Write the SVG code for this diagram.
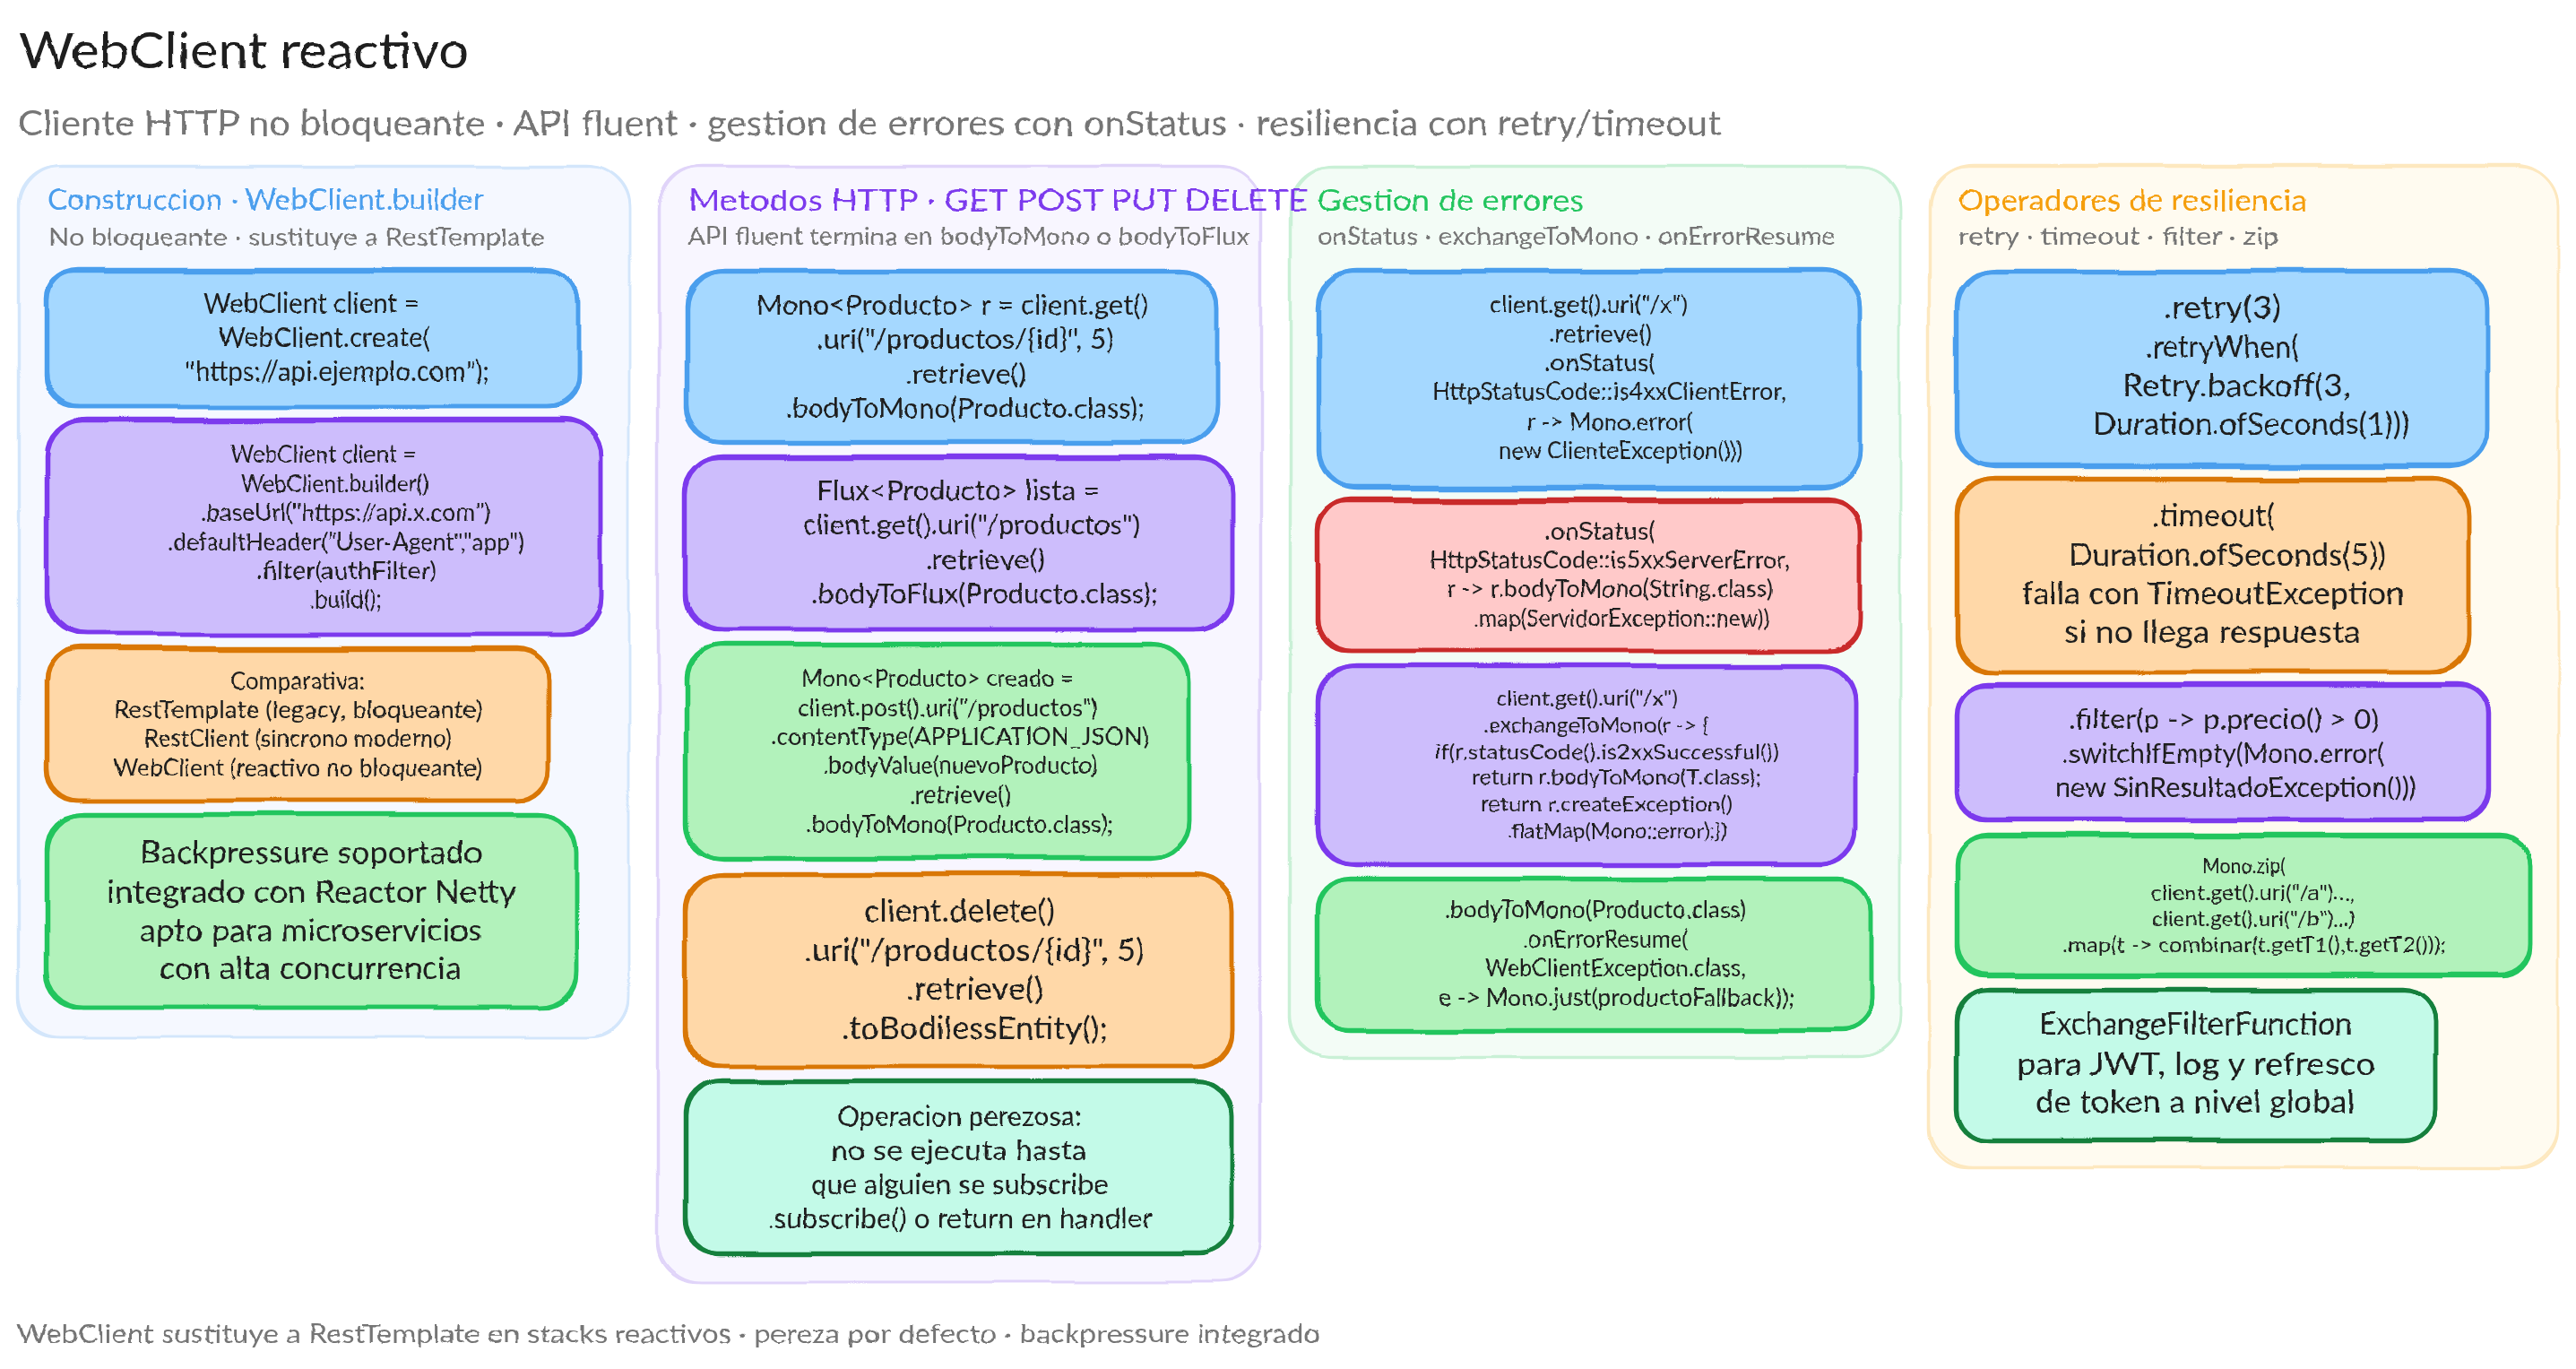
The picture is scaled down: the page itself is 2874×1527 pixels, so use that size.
<svg xmlns="http://www.w3.org/2000/svg" width="2874" height="1527" viewBox="0 0 2874 1527">
<style>
text{font-family:Lato,"Liberation Sans",sans-serif;fill:#1e1e1e;text-anchor:start}
.g text,text.g{fill:#757575}
.panel rect{stroke-width:2.5}
.card rect{stroke-width:4.5}
.p-blue rect{fill:#f5f8ff;stroke:#d3e6fb}
.p-purple rect{fill:#f8f6ff;stroke:#e0d4f9}
.p-green rect{fill:#f3fcf6;stroke:#c9f0d6}
.p-yellow rect{fill:#fffbf0;stroke:#fde8bf}
.blue rect{fill:#a5d8ff;stroke:#4a9eed}
.purple rect{fill:#cdbdfc;stroke:#7c3aed}
.orange rect{fill:#ffd8a8;stroke:#d97706}
.green rect{fill:#b2f2bb;stroke:#22c55e}
.red rect{fill:#ffc9c9;stroke:#c92a2a}
.teal rect{fill:#c3fae8;stroke:#15803d}
rect.o{fill:none!important}
.s{filter:url(#rough)}
.w{filter:url(#hand)}
</style>
<defs>
<filter id="rough" x="-3%" y="-5%" width="106%" height="110%" color-interpolation-filters="sRGB">
<feTurbulence type="fractalNoise" baseFrequency="0.006" numOctaves="2" seed="4"/>
<feDisplacementMap in="SourceGraphic" scale="7" xChannelSelector="R" yChannelSelector="G"/>
</filter>
<filter id="hand" x="-2%" y="-5%" width="104%" height="110%" color-interpolation-filters="sRGB">
<feTurbulence type="fractalNoise" baseFrequency="0.07" numOctaves="2" seed="7"/>
<feDisplacementMap in="SourceGraphic" scale="3.5" xChannelSelector="R" yChannelSelector="G"/>
<feOffset dy="2"/>
</filter>
</defs>
<rect width="2874" height="1527" fill="#ffffff"/>

<g id="header" class="w">
<text x="21" y="74" font-size="56" textLength="502" lengthAdjust="spacingAndGlyphs">WebClient reactivo</text>
<text class="g" x="20" y="149" font-size="38" textLength="1900" lengthAdjust="spacingAndGlyphs">Cliente HTTP no bloqueante · API fluent · gestion de errores con onStatus · resiliencia con retry/timeout</text>
</g>

<g id="panel-resiliencia">
<g class="panel p-yellow s"><rect x="2152" y="186" width="702" height="1117" rx="44"/><rect class="o" x="2153" y="184" width="701" height="1118" rx="48"/></g>
<g class="w">
<text x="2185" y="233" font-size="32" style="fill:#f59e0b" textLength="389" lengthAdjust="spacingAndGlyphs">Operadores de resiliencia</text>
<text class="g" x="2185" y="271" font-size="26" textLength="358" lengthAdjust="spacingAndGlyphs">retry · timeout · filter · zip</text>
</g>
<g id="res-1"><g class="card blue s"><rect x="2183" y="303" width="592" height="216" rx="38"/><rect class="o" x="2184" y="302" width="591" height="219" rx="42"/></g>
<g class="w" font-size="34">
<text x="2414" y="353" textLength="131" lengthAdjust="spacingAndGlyphs">.retry(3)</text>
<text x="2394" y="397" textLength="171" lengthAdjust="spacingAndGlyphs">.retryWhen(</text>
<text x="2368" y="440" textLength="254" lengthAdjust="spacingAndGlyphs">Retry.backoff(3,</text>
<text x="2335" y="483" textLength="353" lengthAdjust="spacingAndGlyphs">Duration.ofSeconds(1)))</text>
</g></g>
<g id="res-2"><g class="card orange s"><rect x="2183" y="535" width="572" height="215" rx="38"/><rect class="o" x="2184" y="534" width="571" height="216" rx="42"/></g>
<g class="w" font-size="35">
<text x="2401" y="585" textLength="137" lengthAdjust="spacingAndGlyphs">.timeout(</text>
<text x="2308" y="629" textLength="354" lengthAdjust="spacingAndGlyphs">Duration.ofSeconds(5))</text>
<text x="2256" y="672" textLength="426" lengthAdjust="spacingAndGlyphs">falla con TimeoutException</text>
<text x="2303" y="715" textLength="331" lengthAdjust="spacingAndGlyphs">si no llega respuesta</text>
</g></g>
<g id="res-3"><g class="card purple s"><rect x="2183" y="765" width="594" height="150" rx="32"/><rect class="o" x="2184" y="763" width="592" height="151" rx="34"/></g>
<g class="w" font-size="30">
<text x="2308" y="811" textLength="346" lengthAdjust="spacingAndGlyphs">.filter(p -&gt; p.precio() &gt; 0)</text>
<text x="2301" y="849" textLength="359" lengthAdjust="spacingAndGlyphs">.switchIfEmpty(Mono.error(</text>
<text x="2293" y="887" textLength="403" lengthAdjust="spacingAndGlyphs">new SinResultadoException()))</text>
</g></g>
<g id="res-4"><g class="card green s"><rect x="2183" y="933" width="640" height="156" rx="32"/><rect class="o" x="2184" y="931" width="639" height="156" rx="34"/></g>
<g class="w" font-size="24">
<text x="2457" y="972" textLength="93" lengthAdjust="spacingAndGlyphs">Mono.zip(</text>
<text x="2400" y="1002" textLength="227" lengthAdjust="spacingAndGlyphs">client.get().uri("/a")...,</text>
<text x="2401" y="1031" textLength="226" lengthAdjust="spacingAndGlyphs">client.get().uri("/b")...)</text>
<text x="2301" y="1060" textLength="428" lengthAdjust="spacingAndGlyphs">.map(t -&gt; combinar(t.getT1(),t.getT2()));</text>
</g></g>
<g id="res-5"><g class="card teal s"><rect x="2183" y="1105" width="534" height="167" rx="34"/><rect class="o" x="2184" y="1104" width="533" height="169" rx="36"/></g>
<g class="w" font-size="35">
<text x="2275" y="1152" textLength="349" lengthAdjust="spacingAndGlyphs">ExchangeFilterFunction</text>
<text x="2250" y="1197" textLength="400" lengthAdjust="spacingAndGlyphs">para JWT, log y refresco</text>
<text x="2271" y="1239" textLength="356" lengthAdjust="spacingAndGlyphs">de token a nivel global</text>
</g></g>
</g>

<g id="panel-errores">
<g class="panel p-green s"><rect x="1439" y="186" width="681" height="993" rx="44"/><rect class="o" x="1440" y="185" width="680" height="995" rx="48"/></g>
<g class="w">
<text x="1470" y="233" font-size="32" style="fill:#22c55e" textLength="297" lengthAdjust="spacingAndGlyphs">Gestion de errores</text>
<text class="g" x="1470" y="271" font-size="26" textLength="578" lengthAdjust="spacingAndGlyphs">onStatus · exchangeToMono · onErrorResume</text>
</g>
<g id="err-1"><g class="card blue s"><rect x="1470" y="303" width="605" height="240" rx="40"/><rect class="o" x="1471" y="302" width="604" height="243" rx="44"/></g>
<g class="w" font-size="26">
<text x="1662" y="347" textLength="221" lengthAdjust="spacingAndGlyphs">client.get().uri("/x")</text>
<text x="1728" y="380" textLength="115" lengthAdjust="spacingAndGlyphs">.retrieve()</text>
<text x="1723" y="412" textLength="124" lengthAdjust="spacingAndGlyphs">.onStatus(</text>
<text x="1598" y="444" textLength="395" lengthAdjust="spacingAndGlyphs">HttpStatusCode::is4xxClientError,</text>
<text x="1704" y="478" textLength="185" lengthAdjust="spacingAndGlyphs">r -&gt; Mono.error(</text>
<text x="1672" y="510" textLength="272" lengthAdjust="spacingAndGlyphs">new ClienteException()))</text>
</g></g>
<g id="err-2"><g class="card red s"><rect x="1470" y="559" width="605" height="167" rx="32"/><rect class="o" x="1471" y="557" width="604" height="169" rx="36"/></g>
<g class="w" font-size="26">
<text x="1723" y="600" textLength="124" lengthAdjust="spacingAndGlyphs">.onStatus(</text>
<text x="1595" y="632" textLength="402" lengthAdjust="spacingAndGlyphs">HttpStatusCode::is5xxServerError,</text>
<text x="1614" y="664" textLength="364" lengthAdjust="spacingAndGlyphs">r -&gt; r.bodyToMono(String.class)</text>
<text x="1644" y="697" textLength="330" lengthAdjust="spacingAndGlyphs">.map(ServidorException::new))</text>
</g></g>
<g id="err-3"><g class="card purple s"><rect x="1470" y="743" width="601" height="221" rx="38"/><rect class="o" x="1471" y="742" width="600" height="223" rx="42"/></g>
<g class="w" font-size="24">
<text x="1669" y="785" textLength="203" lengthAdjust="spacingAndGlyphs">client.get().uri("/x")</text>
<text x="1655" y="815" textLength="252" lengthAdjust="spacingAndGlyphs">.exchangeToMono(r -&gt; {</text>
<text x="1601" y="845" textLength="384" lengthAdjust="spacingAndGlyphs">if(r.statusCode().is2xxSuccessful())</text>
<text x="1642" y="873" textLength="323" lengthAdjust="spacingAndGlyphs">return r.bodyToMono(T.class);</text>
<text x="1652" y="903" textLength="281" lengthAdjust="spacingAndGlyphs">return r.createException()</text>
<text x="1681" y="933" textLength="246" lengthAdjust="spacingAndGlyphs">.flatMap(Mono::error);})</text>
</g></g>
<g id="err-4"><g class="card green s"><rect x="1470" y="981" width="618" height="168" rx="34"/><rect class="o" x="1471" y="980" width="617" height="170" rx="36"/></g>
<g class="w" font-size="26">
<text x="1612" y="1022" textLength="336" lengthAdjust="spacingAndGlyphs">.bodyToMono(Producto.class)</text>
<text x="1699" y="1055" textLength="185" lengthAdjust="spacingAndGlyphs">.onErrorResume(</text>
<text x="1657" y="1087" textLength="291" lengthAdjust="spacingAndGlyphs">WebClientException.class,</text>
<text x="1605" y="1120" textLength="397" lengthAdjust="spacingAndGlyphs">e -&gt; Mono.just(productoFallback));</text>
</g></g>
</g>

<g id="panel-metodos">
<g class="panel p-purple s"><rect x="734" y="186" width="672" height="1244" rx="44"/><rect class="o" x="735" y="185" width="672" height="1245" rx="48"/></g>
<g class="w">
<text x="768" y="233" font-size="32" style="fill:#7c3aed" textLength="691" lengthAdjust="spacingAndGlyphs">Metodos HTTP · GET POST PUT DELETE</text>
<text class="g" x="767" y="271" font-size="26" textLength="627" lengthAdjust="spacingAndGlyphs">API fluent termina en bodyToMono o bodyToFlux</text>
</g>
<g id="met-1"><g class="card blue s"><rect x="765" y="303" width="593" height="190" rx="38"/><rect class="o" x="766" y="302" width="592" height="192" rx="42"/></g>
<g class="w" font-size="31">
<text x="844" y="349" textLength="437" lengthAdjust="spacingAndGlyphs">Mono&lt;Producto&gt; r = client.get()</text>
<text x="911" y="387" textLength="332" lengthAdjust="spacingAndGlyphs">.uri("/productos/{id}", 5)</text>
<text x="1010" y="426" textLength="135" lengthAdjust="spacingAndGlyphs">.retrieve()</text>
<text x="877" y="464" textLength="400" lengthAdjust="spacingAndGlyphs">.bodyToMono(Producto.class);</text>
</g></g>
<g id="met-2"><g class="card purple s"><rect x="765" y="511" width="610" height="191" rx="38"/><rect class="o" x="766" y="509" width="609" height="193" rx="42"/></g>
<g class="w" font-size="31">
<text x="911" y="556" textLength="316" lengthAdjust="spacingAndGlyphs">Flux&lt;Producto&gt; lista =</text>
<text x="896" y="594" textLength="376" lengthAdjust="spacingAndGlyphs">client.get().uri("/productos")</text>
<text x="1032" y="633" textLength="134" lengthAdjust="spacingAndGlyphs">.retrieve()</text>
<text x="905" y="671" textLength="387" lengthAdjust="spacingAndGlyphs">.bodyToFlux(Producto.class);</text>
</g></g>
<g id="met-3"><g class="card green s"><rect x="765" y="719" width="561" height="238" rx="38"/><rect class="o" x="766" y="718" width="560" height="240" rx="42"/></g>
<g class="w" font-size="26">
<text x="894" y="764" textLength="304" lengthAdjust="spacingAndGlyphs">Mono&lt;Producto&gt; creado =</text>
<text x="890" y="797" textLength="335" lengthAdjust="spacingAndGlyphs">client.post().uri("/productos")</text>
<text x="860" y="829" textLength="422" lengthAdjust="spacingAndGlyphs">.contentType(APPLICATION_JSON)</text>
<text x="918" y="861" textLength="306" lengthAdjust="spacingAndGlyphs">.bodyValue(nuevoProducto)</text>
<text x="1014" y="894" textLength="114" lengthAdjust="spacingAndGlyphs">.retrieve()</text>
<text x="900" y="927" textLength="342" lengthAdjust="spacingAndGlyphs">.bodyToMono(Producto.class);</text>
</g></g>
<g id="met-4"><g class="card orange s"><rect x="765" y="976" width="610" height="214" rx="38"/><rect class="o" x="766" y="975" width="609" height="215" rx="42"/></g>
<g class="w" font-size="35">
<text x="964" y="1026" textLength="213" lengthAdjust="spacingAndGlyphs">client.delete()</text>
<text x="897" y="1070" textLength="380" lengthAdjust="spacingAndGlyphs">.uri("/productos/{id}", 5)</text>
<text x="1011" y="1113" textLength="153" lengthAdjust="spacingAndGlyphs">.retrieve()</text>
<text x="939" y="1157" textLength="297" lengthAdjust="spacingAndGlyphs">.toBodilessEntity();</text>
</g></g>
<g id="met-5"><g class="card teal s"><rect x="765" y="1207" width="610" height="191" rx="36"/><rect class="o" x="766" y="1206" width="609" height="193" rx="40"/></g>
<g class="w" font-size="30">
<text x="935" y="1254" textLength="271" lengthAdjust="spacingAndGlyphs">Operacion perezosa:</text>
<text x="927" y="1292" textLength="286" lengthAdjust="spacingAndGlyphs">no se ejecuta hasta</text>
<text x="905" y="1330" textLength="331" lengthAdjust="spacingAndGlyphs">que alguien se subscribe</text>
<text x="856" y="1368" textLength="430" lengthAdjust="spacingAndGlyphs">.subscribe() o return en handler</text>
</g></g>
</g>

<g id="panel-construccion">
<g class="panel p-blue s"><rect x="20" y="186" width="682" height="971" rx="44"/><rect class="o" x="21" y="185" width="681" height="972" rx="48"/></g>
<g class="w">
<text x="53" y="232" font-size="32" style="fill:#4a9eed" textLength="487" lengthAdjust="spacingAndGlyphs">Construccion · WebClient.builder</text>
<text class="g" x="54" y="272" font-size="26" textLength="554" lengthAdjust="spacingAndGlyphs">No bloqueante · sustituye a RestTemplate</text>
</g>
<g id="con-1"><g class="card blue s"><rect x="51" y="303" width="594" height="150" rx="32"/><rect class="o" x="52" y="301" width="593" height="152" rx="36"/></g>
<g class="w" font-size="30">
<text x="227" y="347" textLength="241" lengthAdjust="spacingAndGlyphs">WebClient client =</text>
<text x="243" y="385" textLength="237" lengthAdjust="spacingAndGlyphs">WebClient.create(</text>
<text x="207" y="423" textLength="339" lengthAdjust="spacingAndGlyphs">"https://api.ejemplo.com");</text>
</g></g>
<g id="con-2"><g class="card purple s"><rect x="51" y="469" width="620" height="239" rx="40"/><rect class="o" x="52" y="467" width="619" height="241" rx="44"/></g>
<g class="w" font-size="26">
<text x="257" y="514" textLength="207" lengthAdjust="spacingAndGlyphs">WebClient client =</text>
<text x="269" y="547" textLength="209" lengthAdjust="spacingAndGlyphs">WebClient.builder()</text>
<text x="224" y="579" textLength="323" lengthAdjust="spacingAndGlyphs">.baseUrl("https://api.x.com")</text>
<text x="187" y="612" textLength="398" lengthAdjust="spacingAndGlyphs">.defaultHeader("User-Agent","app")</text>
<text x="286" y="644" textLength="201" lengthAdjust="spacingAndGlyphs">.filter(authFilter)</text>
<text x="345" y="676" textLength="81" lengthAdjust="spacingAndGlyphs">.build();</text>
</g></g>
<g id="con-3"><g class="card orange s"><rect x="51" y="725" width="561" height="168" rx="34"/><rect class="o" x="52" y="723" width="560" height="170" rx="36"/></g>
<g class="w" font-size="26">
<text x="257" y="767" textLength="150" lengthAdjust="spacingAndGlyphs">Comparativa:</text>
<text x="127" y="799" textLength="411" lengthAdjust="spacingAndGlyphs">RestTemplate (legacy, bloqueante)</text>
<text x="161" y="831" textLength="343" lengthAdjust="spacingAndGlyphs">RestClient (sincrono moderno)</text>
<text x="127" y="864" textLength="411" lengthAdjust="spacingAndGlyphs">WebClient (reactivo no bloqueante)</text>
</g></g>
<g id="con-4"><g class="card green s"><rect x="51" y="909" width="592" height="215" rx="38"/><rect class="o" x="52" y="908" width="591" height="216" rx="42"/></g>
<g class="w" font-size="35">
<text x="156" y="961" textLength="382" lengthAdjust="spacingAndGlyphs">Backpressure soportado</text>
<text x="119" y="1005" textLength="457" lengthAdjust="spacingAndGlyphs">integrado con Reactor Netty</text>
<text x="156" y="1048" textLength="382" lengthAdjust="spacingAndGlyphs">apto para microservicios</text>
<text x="178" y="1090" textLength="337" lengthAdjust="spacingAndGlyphs">con alta concurrencia</text>
</g></g>
</g>

<g id="footer" class="w">
<text class="g" x="19" y="1496" font-size="29" textLength="1454" lengthAdjust="spacingAndGlyphs">WebClient sustituye a RestTemplate en stacks reactivos · pereza por defecto · backpressure integrado</text>
</g>
</svg>
